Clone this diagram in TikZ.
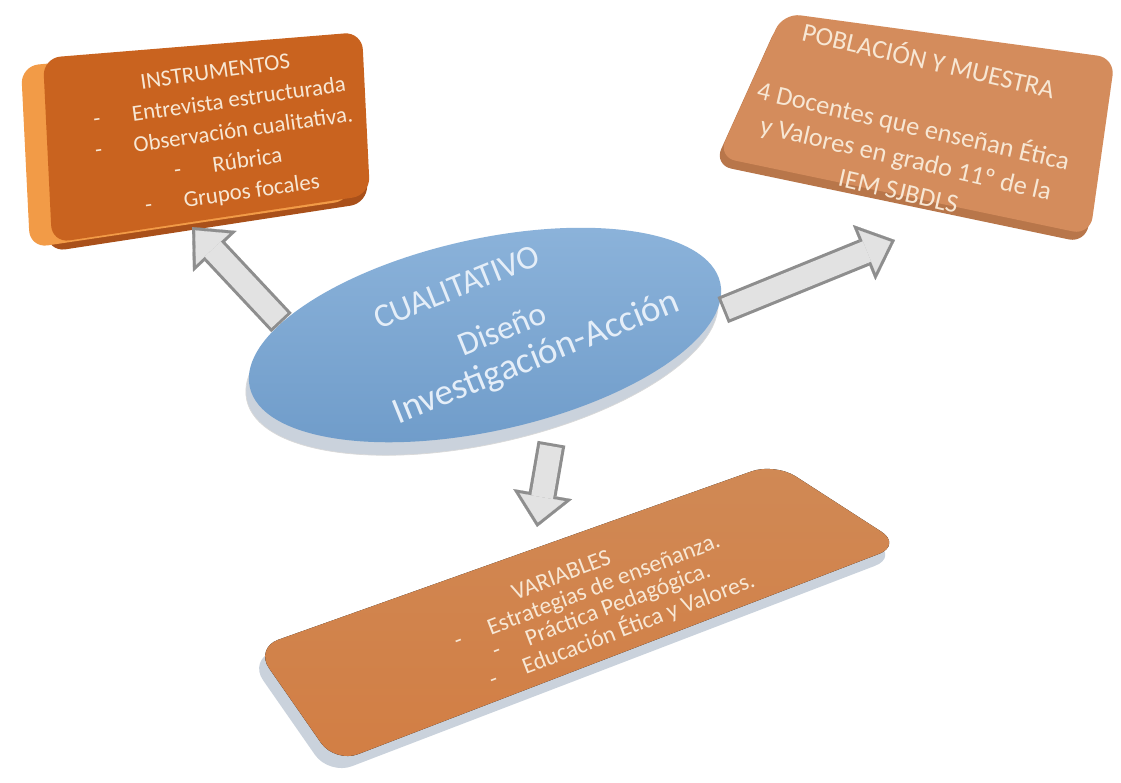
\documentclass[tikz,border=0pt]{standalone}
\usepackage{fontspec}
\setmainfont{Carlito}
\usetikzlibrary{arrows.meta,shapes.geometric}

\definecolor{naranjaosc}{HTML}{C9631F}
\definecolor{naranjaluz}{HTML}{F29B47}
\definecolor{naranjasom}{HTML}{A9501A}
\definecolor{cafeclaro}{HTML}{D48C5C}
\definecolor{cafesom}{HTML}{B8764A}
\definecolor{cafevar}{HTML}{D08955}
\definecolor{cafevarb}{HTML}{D27E44}
\definecolor{plata}{HTML}{CAD2DC}
\definecolor{azulelip}{HTML}{6E9BC9}
\definecolor{azulluz}{HTML}{8DB4DB}
\definecolor{crema}{HTML}{F7E7D4}
\definecolor{cremaazul}{HTML}{E5EEF8}
\definecolor{grisflecha}{HTML}{8E8E8E}
\definecolor{blancoflecha}{HTML}{E2E2E2}

\tikzset{
  caja/.style={rounded corners=10pt},
  textocaja/.style={text=crema, align=center, inner sep=0pt},
  flechaout/.style={line width=16pt, draw=grisflecha,
    -{Triangle[length=19pt,width=34pt,line width=0.1pt]}},
  flechain/.style={line width=12.5pt, draw=blancoflecha,
    -{Triangle[length=14.6pt,width=26.1pt,line width=0.1pt]}, shorten >=2.63pt},
}

\begin{document}
\begin{tikzpicture}[x=0.02cm,y=-0.02cm]
  \useasboundingbox (0,0) rectangle (1121,782);
  \fill[white] (0,0) rectangle (1121,782);

  % INSTRUMENTOS
  \fill[naranjasom, caja] (38,66) -- (360,40) -- (368,203) -- (48,252) -- cycle;
  \fill[naranjaluz, caja] (21,66) -- (345,37) -- (352,200) -- (30,248) -- cycle;
  \fill[naranjaosc, caja] (43,58) -- (362,32) -- (370,195) -- (52,243) -- cycle;
  \node[textocaja, rotate=8, font=\fontsize{13}{17.5}\selectfont] (instr) at (224,134)
    {INSTRUMENTOS\\-\hspace{1.4em}Entrevista estructurada\\-\hspace{1.4em}Observación cualitativa.\\-\hspace{1.4em}Rúbrica\\-\hspace{1.4em}Grupos focales};

  % POBLACION Y MUESTRA
  \fill[cafesom, caja] (779,21) -- (1111,66) -- (1086,243) -- (714,165) -- cycle;
  \fill[cafeclaro, caja] (783,13) -- (1115,58) -- (1090,235) -- (718,157) -- cycle;
  \node[textocaja, rotate=-13, font=\fontsize{15}{19}\selectfont] (pobl) at (914,124)
    {POBLACIÓN Y MUESTRA\\[19pt]4 Docentes que enseñan Ética\\y Valores en grado 11º de la\\IEM SJBDLS};

  % VARIABLES
  \fill[plata, rounded corners=14pt] (249,660) -- (770,474) -- (898,557) -- (329,775) -- cycle;
  \fill[top color=cafevar, bottom color=cafevarb, rounded corners=14pt]
    (255,648) -- (775,463) -- (902,545) -- (335,763) -- cycle;
  \node[textocaja, rotate=21, font=\fontsize{13.5}{13.5}\selectfont] (var) at (592,604)
    {VARIABLES\hspace*{21pt}\\-\hspace{1.2em}Estrategias de enseñanza.\hspace*{7pt}\\\hspace*{7pt}-\hspace{1.2em}Práctica Pedagógica.\\\hspace*{21pt}-\hspace{1.2em}Educación Ética y Valores.};

  % elipse central
  \node[ellipse, fill=plata, draw=white!70!gray, rotate=12.5, minimum width=9.64cm,
    minimum height=3.84cm] at (482,348) {};
  \node[ellipse, top color=azulluz, bottom color=azulelip, rotate=12.5, minimum width=9.64cm,
    minimum height=3.84cm, inner sep=0pt] (elip) at (485,335) {};
  \node[text=cremaazul, align=center, rotate=22, font=\fontsize{19}{22}\selectfont] (disenio) at (500,324)
    {CUALITATIVO\hspace*{30pt}\\[10pt]Diseño\\\hspace*{24pt}{\fontsize{21}{22}\selectfont Investigación-Acción}};

  % flechas
  \coordinate (pinstr) at (192,227);
  \coordinate (ppobl) at (895,240);
  \coordinate (pvar) at (537,527);

  \draw[flechaout] (elip.164) -- (pinstr);
  \draw[flechain, shorten <=1.7pt] (elip.164) -- (pinstr);
  \draw[flechaout, shorten <=4pt] (elip.-7) -- (ppobl);
  \draw[flechain, shorten <=5.7pt] (elip.-7) -- (ppobl);
  \draw[flechaout, shorten <=16pt] (elip.-61) -- (pvar);
  \draw[flechain, shorten <=17.7pt] (elip.-61) -- (pvar);
\end{tikzpicture}
\end{document}
